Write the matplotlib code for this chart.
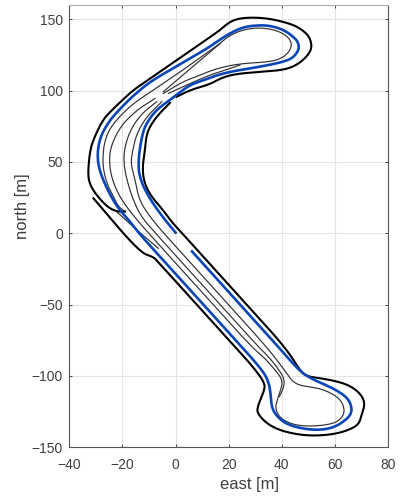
import numpy as np
import matplotlib
matplotlib.use("Agg")
import matplotlib.pyplot as plt

plt.rcParams['font.family'] = ['Liberation Sans', 'DejaVu Sans']

x_ticks = [-40, -20, 0, 20, 40, 60, 80]
y_ticks = [-150, -100, -50, 0, 50, 100, 150]

# centre line (east, north)
blue_path = [(0,0.5),(-3.8,9),(-7.7,18.7),(-10,25.5),(-12.1,32.7),(-13.5,40),(-14,46.7),(-13.6,58.4),(-12.1,72.4),(-10.4,78.5),(-8.3,84),(-5.5,89),(-2.1,93.4),(1.5,98.8),(5.5,103.9),(9.2,106.5),(13,108.8),(15.5,110.8),(21.8,113.7),(28,115.5),(38.1,119),(42.5,121.4),(44.4,123.6),(46,127.2),(46.5,130.7),(46,134.2),(45,136.5),(42.5,140.5),(39.4,143.5),(35.6,145.4),(31.8,145.9),(25.5,144.7),(19.3,139),(14.3,132.4),(9.2,126.6),(-0.8,115.8),(-9.6,106.2),(-15.9,96.5),(-20.5,88),(-24.7,79.4),(-28,69),(-29.4,58.4),(-29.1,46.7),(-26.5,33.8),(-22.2,18.7),(-17.1,8.2),(-13.8,0),(-4.1,-20),(10.5,-50),(25.1,-80),(28.5,-87),(33,-97),(35,-103.9),(35.8,-112),(36.2,-122.6),(38.7,-129.6),(43.1,-135),(51.9,-138.2),(59.4,-136.6),(65.1,-129.6),(66.6,-123.8),(65.1,-115.6),(59.4,-108.6),(51.9,-102.7),(46.9,-97),(38.9,-80),(24.3,-50),(9.7,-20),(6.2,-12.7)]

# outer boundary
outer_a = [(-2.1,91.4),(-5.5,85.1),(-8.6,78.1),(-10.9,69.9),(-11.5,58.4),(-12.4,48),(-12.1,37.3),(-9.6,26.8),(-5,17),(-1.5,8),(2.5,0),(12.2,-20),(26.8,-50),(41.4,-80),(47.5,-98),(50,-100.4),(54.4,-101.6),(59.4,-103.2),(65.1,-106.2),(69.5,-112),(71.4,-119),(70.1,-127.3),(68.9,-134.3),(64.4,-138.5),(58.2,-141.3),(49.4,-142),(40.6,-139),(35,-134.3),(31.2,-127.3),(30.6,-122.6),(33.3,-111),(33.7,-105),(29.1,-93.4),(22.6,-80),(8,-50),(-6.6,-20),(-8.2,-16.7),(-13.6,-13.2),(-30.9,24.5)]
outer_b = [(0.4,95.7),(5.5,100.4),(13,104.5),(16.8,108.5),(21.8,111.5),(31.8,113.2),(40.6,114.4),(45.6,117.8),(49.4,123.7),(51.3,129.5),(50.9,135.4),(49.4,140),(45.6,145.2),(40.6,148.2),(35.6,150.3),(30.6,151.2),(25.5,151),(21.8,149.4),(19.3,146.6),(16.8,142.4),(9.2,132.6),(-3.3,116.6),(-9.6,108.5),(-15.9,100.4),(-20.5,92.5),(-24.7,85),(-27.4,79.3),(-30.5,67.6),(-32.2,58.4),(-33,42),(-32.4,35),(-30.3,28),(-25.9,18.7),(-22.2,15.2),(-19,15.2)]

# thin lane lines
lane_1 = [(-19,15.2),(-21.5,18.7),(-23.4,25.7),(-25.9,35),(-27.4,46.7),(-27.2,58.4),(-26.4,66),(-24.7,73.5),(-21,82),(-15.9,91),(-8.3,100.4),(2.9,114.6),(9.2,123),(16.8,133),(19.9,138.2),(25.5,142.8),(31.8,144.2),(38.1,142.3),(42.5,137.7),(44,131.8),(41.9,124.8),(36.8,120.2),(24.3,119),(15.5,115.5),(10,111.5),(3,106.5),(-4.6,98)]
lane_2 = [(-7.7,94.5),(-14.6,86.4),(-20.9,74.7),(-24.7,59.5),(-24.9,46.7),(-23.4,35),(-20.3,23.3),(-15.6,11.7),(-10.1,0),(-0.4,-20),(14.2,-50),(28.8,-80),(33.7,-87.6),(38,-97),(39.6,-100.9),(40.2,-105),(39.6,-109.7),(38.4,-116.3),(37.5,-122.6),(39.3,-129.6),(44.4,-134.3),(51.3,-135.4),(59.4,-133.6),(62.6,-129.6),(63.8,-123.8),(61.9,-115.6),(55.7,-109.3),(49.4,-107.4),(46.2,-106.2),(43.7,-103.2),(41.9,-98),(34.5,-80),(19.9,-50),(5.3,-20),(-4.4,0),(-9.7,11.7),(-13.7,23.3),(-15.2,37.3),(-16.9,49),(-16.1,58.4),(-14.6,70),(-10.9,81.7),(-5.2,92.2)]
lane_3 = [(-7.1,92.2),(-12.7,84),(-17.1,72.4),(-19.4,58.4),(-19.4,46.7),(-17.8,33.8),(-15.9,23.3),(-13,11.7),(-7.5,0),(2.2,-20),(16.8,-50),(31.4,-80),(35.6,-87.6),(39.4,-97),(40.6,-100.9),(41,-105),(40.4,-109.7),(39.1,-114.4)]
lane_4 = [(-4.6,99.2),(6.1,116.2),(16.8,133)]
lane_5 = [(-2.7,98),(5.5,105),(13,111),(19,114.5),(24.3,118)]
lane_6 = [(-22.2,15.2),(-14.6,2.3),(-6.5,-10.5)]


def rounded(pts, passes=3):
    """Round the corners of a read-off polyline for drawing (Chaikin)."""
    p = np.asarray(pts, dtype=float)
    for _ in range(passes):
        q = 0.75 * p[:-1] + 0.25 * p[1:]
        r = 0.25 * p[:-1] + 0.75 * p[1:]
        mid = np.empty((2 * len(q), 2))
        mid[0::2] = q
        mid[1::2] = r
        p = np.vstack([p[:1], mid, p[-1:]])
    return p[:, 0], p[:, 1]


fig = plt.figure(figsize=(4.05, 4.97), dpi=100)
ax = fig.add_axes([69.3/405, 1-447.3/497, (388-69.3)/405, (447.3-5)/497])

for lane in (lane_1, lane_2, lane_3, lane_4, lane_5, lane_6):
    ax.plot(*rounded(lane), color='#303030', lw=0.85)
ax.plot(*rounded(outer_a), color='black', lw=1.5)
ax.plot(*rounded(outer_b), color='black', lw=1.5)
ax.plot(*rounded(blue_path), color='#0B46B8', lw=1.9)

ax.set_xlim(-40, 80)
ax.set_ylim(-150, 160)
ax.set_xticks(x_ticks)
ax.set_yticks(y_ticks)
ax.grid(True, color='#e4e4e4', lw=0.8)
ax.set_axisbelow(True)
ax.tick_params(direction='in', length=2.5, width=0.7, colors='#404040', labelsize=10,
               top=True, right=True)
ax.tick_params(axis='x', pad=8)
ax.tick_params(axis='y', pad=4.5)
for s in ax.spines.values():
    s.set_color('#555555')
    s.set_linewidth(0.8)
ax.spines['top'].set_color('#aaaaaa')
ax.set_xlabel('east [m]', fontsize=12, color='#404040', va='center')
ax.set_ylabel('north [m]', fontsize=12, color='#404040', va='center')
ax.xaxis.set_label_coords((249-69.3)/318.7, (447.3-485)/442.3)
ax.yaxis.set_label_coords((23-69.3)/318.7, (447.3-206)/442.3)
fig.savefig('out.png', dpi=100)
